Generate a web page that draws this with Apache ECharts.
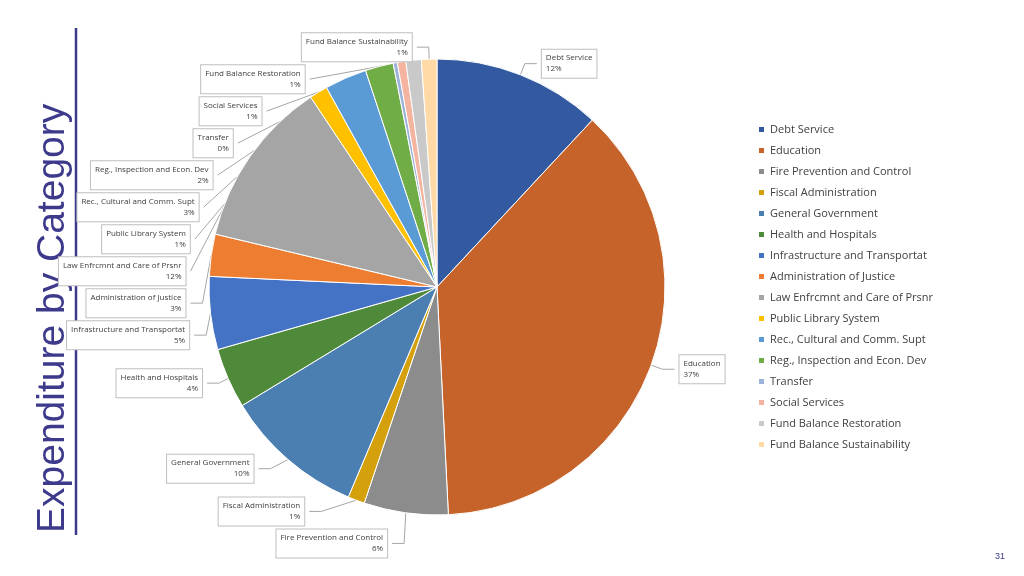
<!DOCTYPE html>
<html><head><meta charset="utf-8">
<script src="https://cdn.jsdelivr.net/npm/echarts@6/dist/echarts.min.js"></script>
<style>html,body{margin:0;background:#fff}#c{width:1024px;height:576px}</style>
</head><body><div id="c"></div>
<script>
const categories = ["Debt Service","Education","Fire Prevention and Control","Fiscal Administration","General Government","Health and Hospitals","Infrastructure and Transportat","Administration of Justice","Law Enfrcmnt and Care of Prsnr","Public Library System","Rec., Cultural and Comm. Supt","Reg., Inspection and Econ. Dev","Transfer","Social Services","Fund Balance Restoration","Fund Balance Sustainability"];
const values = [12,37.5,6,1.2,10,4.3,5.2,3,12,1.3,3,2,0.3,0.6,1.1,1.1];
const colors = ["#335aa1","#c5632b","#8c8c8c","#d4a00b","#4b7fb1","#4f8a3a","#4472c4","#ed7d31","#a5a5a5","#ffc000","#5b9bd5","#70ad47","#9eb3d9","#f4b4a0","#c9c9c9","#ffd9a6"];
const chart = echarts.init(document.getElementById('c'));
chart.setOption({
  animation:false,
  color:colors,
  legend:{orient:'vertical',left:752,top:119,itemWidth:7,itemHeight:7,itemGap:10,icon:'rect',
    textStyle:{fontSize:11,color:'#404040',fontFamily:'Open Sans'},data:categories},
  graphic:[
    {type:'text',x:34,y:533,rotation:Math.PI/2,style:{text:'Expenditure by Category',fontSize:39,fill:'#3d3a8c',fontFamily:'Liberation Sans'}},
    {type:'line',shape:{x1:76,y1:28,x2:76,y2:535},style:{stroke:'#3d3a8c',lineWidth:2.5}},
    {type:'text',x:995,y:552,style:{text:'31',fontSize:9,fill:'#3d3a8c',fontFamily:'Liberation Sans'}}
  ],
  series:[{type:'pie',center:[437,287],radius:228,startAngle:90,clockwise:true,
    data:categories.map((n,i)=>({name:n,value:values[i]})),
    itemStyle:{borderColor:'#fff',borderWidth:1},
    label:{formatter:p=>p.name+'\n'+Math.round(p.percent)+'%',fontSize:8,color:'#404040',align:'center',backgroundColor:'#fff',borderColor:'#bfbfbf',borderWidth:1,padding:[3,4],lineHeight:11,fontFamily:'Open Sans'},
    labelLine:{length:12,length2:12,lineStyle:{color:'#a6a6a6'}}
  }]
});
</script></body></html>
